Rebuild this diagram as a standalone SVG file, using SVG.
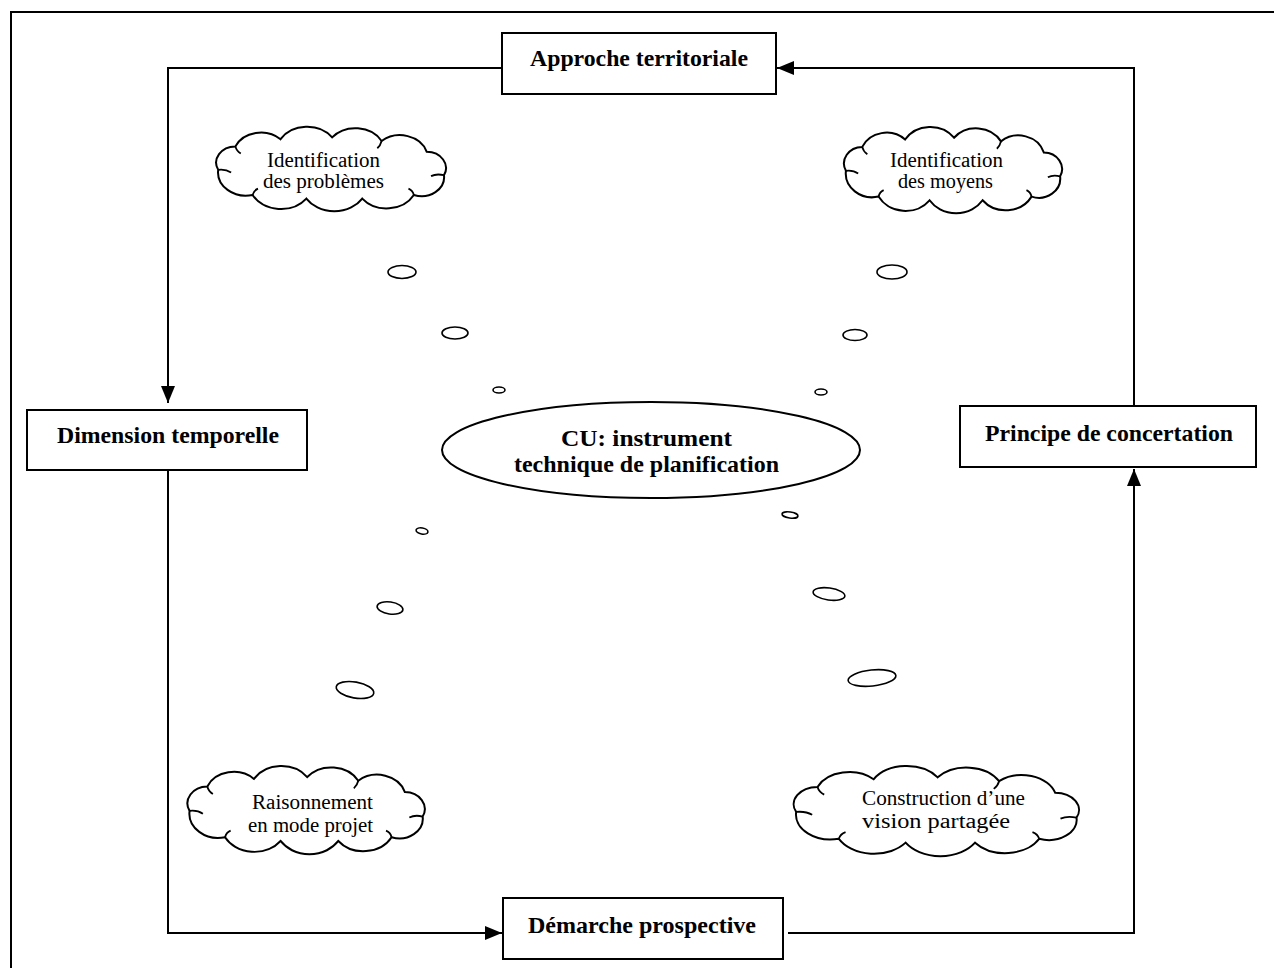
<svg xmlns="http://www.w3.org/2000/svg" width="1274" height="968" viewBox="0 0 1274 968">
<style>
.frame{fill:none;stroke:#000;stroke-width:2}
.box{fill:#fff;stroke:#000;stroke-width:2}
.lbl{font-family:"Liberation Serif","Times New Roman",serif;font-weight:bold;font-size:24px;fill:#000}
.ctext{font-family:"Liberation Serif","Times New Roman",serif;font-size:20px;fill:#000}
.cloud{fill:#fff;stroke:#000;stroke-width:2;vector-effect:non-scaling-stroke}
.inner{fill:none;stroke:#000;stroke-width:1.8;vector-effect:non-scaling-stroke}
.bub{fill:#fff;stroke:#000;stroke-width:1.6}
.conn{fill:none;stroke:#000;stroke-width:2}
</style>
<defs>
<marker id="arr" markerUnits="userSpaceOnUse" markerWidth="18" markerHeight="15" refX="17" refY="7" orient="auto">
<path d="M0,0 L17,7 L0,14 z" fill="#000"/>
</marker>
<g id="cloudShape">
<path class="cloud" d="M -104 2 A 18 18 0 0 1 -88 -24 A 26 26 0 0 1 -46 -32 A 29 29 0 0 1 2 -34 A 28 28 0 0 1 48 -30 A 26 26 0 0 1 90 -18 A 18 18 0 0 1 106 8 A 21 21 0 0 1 78 30 A 29 29 0 0 1 30 34 A 31 31 0 0 1 -22 34 A 30 30 0 0 1 -72 30 A 26 26 0 0 1 -104 2 Z"/>
<path class="inner" d="M -104 2 q 7 -1 12 3 M -88 -24 q 1 5 5 8 M 48 -30 q -1 5 -4 8 M 106 8 q -7 -2 -12 1 M -72 30 q 1 -5 5 -7 M 78 30 q -1 -5 -5 -7"/>
</g>
</defs>
<rect class="frame" x="11" y="12" width="1300" height="1000"/>

<g id="connectors">
<path class="conn" d="M502,68 H168 V403" marker-end="url(#arr)"/>
<path class="conn" d="M168,470 V933 H502" marker-end="url(#arr)"/>
<path class="conn" d="M788,933 H1134 V469" marker-end="url(#arr)"/>
<path class="conn" d="M1134,406 V68 H777" marker-end="url(#arr)"/>
</g>

<g id="approche">
<rect class="box" x="502" y="33" width="274" height="61"/>
<text class="lbl" x="530" y="66" textLength="218" lengthAdjust="spacingAndGlyphs">Approche territoriale</text>
</g>
<g id="dimension">
<rect class="box" x="27" y="410" width="280" height="60"/>
<text class="lbl" x="57" y="443" textLength="222" lengthAdjust="spacingAndGlyphs">Dimension temporelle</text>
</g>
<g id="principe">
<rect class="box" x="960" y="406" width="296" height="61"/>
<text class="lbl" x="985" y="441" textLength="248" lengthAdjust="spacingAndGlyphs">Principe de concertation</text>
</g>
<g id="demarche">
<rect class="box" x="503" y="898" width="280" height="61"/>
<text class="lbl" x="528" y="933" textLength="228" lengthAdjust="spacingAndGlyphs">Démarche prospective</text>
</g>

<g id="centre">
<ellipse class="box" cx="651" cy="450" rx="209" ry="48"/>
<text class="lbl" x="561" y="446" textLength="171" lengthAdjust="spacingAndGlyphs">CU: instrument</text>
<text class="lbl" x="514" y="472" textLength="265" lengthAdjust="spacingAndGlyphs">technique de planification</text>
</g>

<g id="bubbles">
<ellipse class="bub" cx="402" cy="272" rx="14" ry="6.5"/>
<ellipse class="bub" cx="455" cy="333" rx="13" ry="6"/>
<ellipse class="bub" cx="499" cy="390" rx="6" ry="3"/>
<ellipse class="bub" cx="892" cy="272" rx="15" ry="7"/>
<ellipse class="bub" cx="855" cy="335" rx="12" ry="5.5"/>
<ellipse class="bub" cx="821" cy="392" rx="6" ry="3"/>
<ellipse class="bub" cx="422" cy="531" rx="6" ry="3" transform="rotate(10 422 531)"/>
<ellipse class="bub" cx="390" cy="608" rx="13" ry="6" transform="rotate(8 390 608)"/>
<ellipse class="bub" cx="355" cy="690" rx="19" ry="8" transform="rotate(10 355 690)"/>
<ellipse class="bub" cx="790" cy="515" rx="8" ry="3" transform="rotate(8 790 515)"/>
<ellipse class="bub" cx="829" cy="594" rx="16" ry="6" transform="rotate(8 829 594)"/>
<ellipse class="bub" cx="872" cy="678" rx="24" ry="8" transform="rotate(-6 872 678)"/>
</g>

<g id="cloud-problemes">
<use href="#cloudShape" transform="translate(330,168) scale(1.075,0.9)"/>
<text class="ctext" x="267" y="167" textLength="113" lengthAdjust="spacingAndGlyphs">Identification</text>
<text class="ctext" x="263" y="188" textLength="121" lengthAdjust="spacingAndGlyphs">des problèmes</text>
</g>
<g id="cloud-moyens">
<use href="#cloudShape" transform="translate(952,169) scale(1.02,0.92)"/>
<text class="ctext" x="890" y="167" textLength="113" lengthAdjust="spacingAndGlyphs">Identification</text>
<text class="ctext" x="898" y="188" textLength="95" lengthAdjust="spacingAndGlyphs">des moyens</text>
</g>
<g id="cloud-projet">
<use href="#cloudShape" transform="translate(305,809) scale(1.11,0.94)"/>
<text class="ctext" x="252" y="809" textLength="121" lengthAdjust="spacingAndGlyphs">Raisonnement</text>
<text class="ctext" x="248" y="832" textLength="125" lengthAdjust="spacingAndGlyphs">en mode projet</text>
</g>
<g id="cloud-vision">
<use href="#cloudShape" transform="translate(935,810) scale(1.335,0.96)"/>
<text class="ctext" x="862" y="805" textLength="163" lengthAdjust="spacingAndGlyphs">Construction d’une</text>
<text class="ctext" x="862" y="828" textLength="148" lengthAdjust="spacingAndGlyphs">vision partagée</text>
</g>
</svg>
